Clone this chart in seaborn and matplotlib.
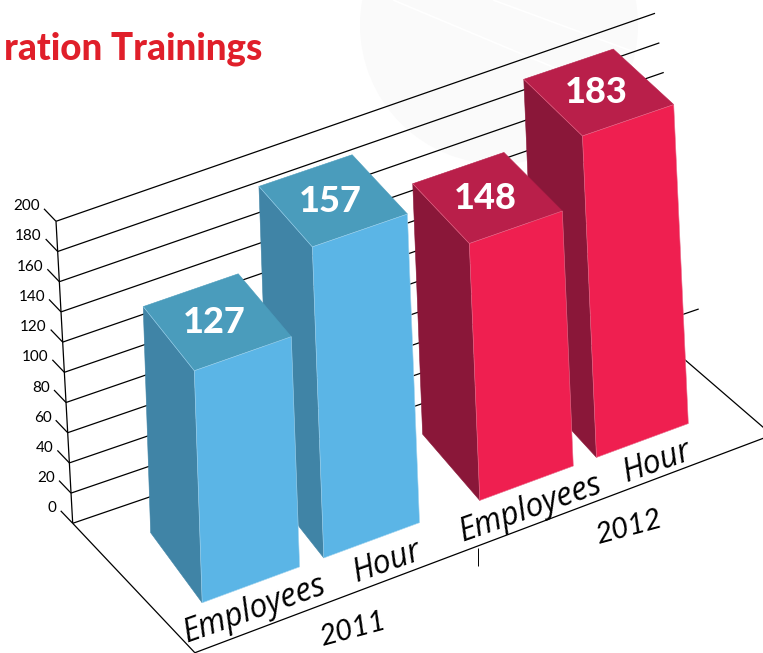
import numpy as np
import pandas as pd
import seaborn as sns
import matplotlib
matplotlib.use("Agg")
import matplotlib.pyplot as plt
from matplotlib.patches import Circle, Polygon
from matplotlib.transforms import Affine2D, Transform

W, H = 763, 653

years = ["2011", "2011", "2012", "2012"]
metrics = ["Employees", "Hour", "Employees", "Hour"]
printed_values = [127, 157, 148, 183]
# the source does not draw the bars to scale, so the heights are read off the picture
bar_heights = [127.5, 173, 144.6, 183]
y_ticks = [0, 20, 40, 60, 80, 100, 120, 140, 160, 180, 200]

front_colors = {"2011": "#5BB5E6", "2012": "#EF1F50"}
side_colors = {"2011": "#4084A6", "2012": "#8A1739"}
top_colors = {"2011": "#4A9CBC", "2012": "#B91F4A"}
seam_colors = {"2011": "#A5D6F0", "2012": "#E8708E"}

# camera for (category position, depth, height) -> image pixel
CAM = np.array([[285.367, -47.3791, -0.052818, 311.743],
                [-91.0596, -56.3421, -1.78921, 562.41],
                [0.0208829, 0.0248606, 4.36635e-05, 1.0]])

to_display = Affine2D().scale(1, -1).translate(0, H)


def project(x, d, z):
    p = CAM @ np.array([x, d, z, 1.0])
    return p[:2] / p[2]


class FrontPlane(Transform):
    # puts the flat (x, height) bars from seaborn on the front plane of the camera
    input_dims = output_dims = 2
    is_affine = False

    def transform_non_affine(self, values):
        return np.array([project(x, 0, z) for x, z in values])


def wall(t, z):
    # back wall, its edges run between these picture corners
    left = np.array([72.7, 523.3]) + (np.array([56, 221.3]) - np.array([72.7, 523.3])) * z / 200
    right = np.array([698.7, 309]) + (np.array([655, 13.3]) - np.array([698.7, 309])) * z / 200
    return left + (right - left) * t


sns.set_theme(style="white")
plt.rcParams['font.family'] = ['Lato', 'DejaVu Sans']

df = pd.DataFrame({'year': years, 'metric': metrics, 'height': bar_heights})

fig = plt.figure(figsize=(W / 100, H / 100), dpi=100)
ax = fig.add_axes([0, 0, 1, 1])
sns.barplot(data=df, x='year', y='height', hue='metric', order=["2011", "2012"], hue_order=["Employees", "Hour"],
            width=0.866, gap=0.2, legend=False, ax=ax)
ax.set_axis_off()


def line(a, b, lw=0.9, zorder=2, color='black'):
    ax.plot([a[0], b[0]], [a[1], b[1]], color=color, lw=lw, zorder=zorder,
            transform=to_display, solid_capstyle='butt', clip_on=False)


# faint backdrop
ax.add_patch(Circle((499, 25), 139, facecolor='#FAFAFA', edgecolor='none', transform=to_display, zorder=0))
line((393, 0), (560, 70), lw=1.2, zorder=0.5, color='white')
line((493, 0), (637, 53), lw=1.2, zorder=0.5, color='white')

# value axis on the wall, the middle lines stop behind the last bar
for z in y_ticks:
    a = wall(0, z)
    line(a, wall(1 if z == 0 or z >= 160 else 0.9, z))
    line(a, a + np.array([-12, -12.5]))
    ax.text(a[0] - 16, a[1] - 15, str(z), ha='right', va='center', fontsize=11, color='black', transform=to_display)
line(wall(0, 0), wall(0, 200))

# floor
line(wall(0, 0), project(-0.51, -0.509, 0))
line(project(-0.51, -0.509, 0), project(1.592, -0.476, 0))
line(project(1.592, -0.476, 0), project(1.54, 1.3, 0))
sep = project(0.492, -0.515, 0)
line(sep, sep + np.array([0, 18]), lw=0.7)

# bars, right to left so the nearer ones overlap
bars = []
for h, container in enumerate(ax.containers):
    for g, bar in enumerate(container):
        bars.append((2 * g + h, bar))
bars.sort(key=lambda b: b[0])

front_plane = FrontPlane()
for i, bar in bars:
    year = years[i]
    x0, x1 = bar.get_x(), bar.get_x() + bar.get_width()
    z = bar.get_height()
    order = 10 - i
    bar.set_transform(front_plane + to_display)
    bar.set_facecolor(front_colors[year])
    bar.set_edgecolor(seam_colors[year])
    bar.set_linewidth(0.4)
    bar.set_zorder(order + 0.2)
    side = [project(x0, 0, 0), project(x0, 1, 0), project(x0, 1, z), project(x0, 0, z)]
    top = [project(x0, 0, z), project(x0, 1, z), project(x1, 1, z), project(x1, 0, z)]
    ax.add_patch(Polygon(side, closed=True, facecolor=side_colors[year], edgecolor=side_colors[year], lw=0.4,
                         transform=to_display, zorder=order))
    ax.add_patch(Polygon(top, closed=True, facecolor=top_colors[year], edgecolor=top_colors[year], lw=0.4,
                         transform=to_display, zorder=order + 0.1))
    line(top[0], top[1], lw=0.4, zorder=order + 0.15, color=seam_colors[year])
    c = project((x0 + x1) / 2, 0.5, z)
    ax.text(c[0] - 2, c[1] + 1, str(printed_values[i]), ha='center', va='center', fontsize=26, fontweight='black',
            color='white', transform=to_display, zorder=order + 0.3)
    base = project((x0 + x1) / 2, 0, 0)
    off = (4, 25) if metrics[i] == "Employees" else (15, 22)
    ax.text(base[0] + off[0], base[1] + off[1], metrics[i], ha='center', va='center', fontsize=23, style='italic',
            family=['Open Sans', 'DejaVu Sans'], rotation=19.5, rotation_mode='anchor', color='black',
            transform=to_display, zorder=20)

# year labels under the floor edge
for k, year in enumerate(["2011", "2012"]):
    c = project(k, -0.5, 0)
    ax.text(c[0] + 13, c[1] + 32, year, ha='center', va='center', fontsize=21, style='italic',
            rotation=15, rotation_mode='anchor', color='black', transform=to_display, zorder=20)

ax.text(262, 60, "ration Trainings", ha='right', va='baseline', fontsize=26.5, fontweight='black', color='#E01F2A',
        transform=to_display, zorder=20)

fig.savefig('out.png', dpi=100)
